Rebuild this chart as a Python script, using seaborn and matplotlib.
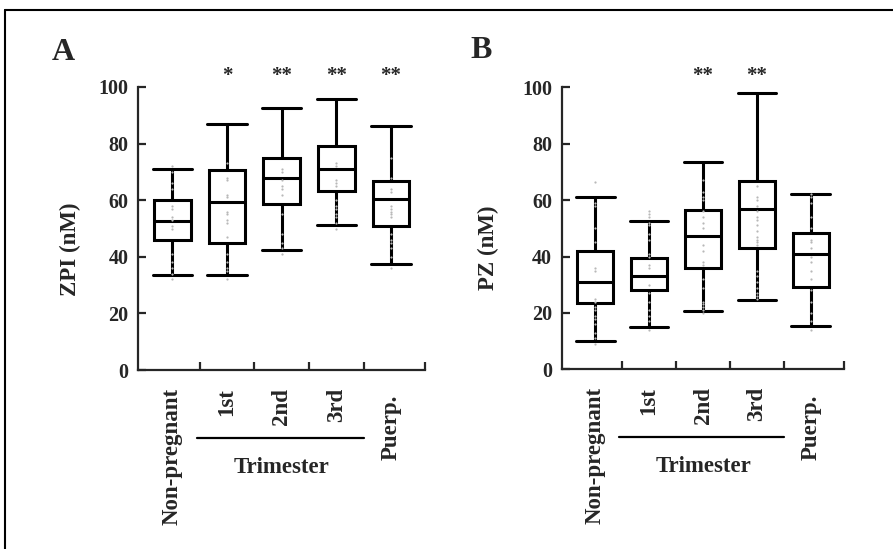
import numpy as np
import pandas as pd
import matplotlib
matplotlib.use("Agg")
import matplotlib.pyplot as plt
import matplotlib.transforms as mtrans
from matplotlib.lines import Line2D
import seaborn as sns

# ---------------------------------------------------------------- data
groups = ["Non-pregnant", "1st", "2nd", "3rd", "Puerp."]

# ZPI (nM): whisker ends, quartiles and medians per group
zpi_low = [33.6, 33.5, 42.3, 51.3, 37.5]
zpi_q1 = [45.8, 44.9, 58.5, 63.2, 50.8]
zpi_median = [52.5, 59.2, 67.8, 71.2, 60.4]
zpi_q3 = [60.0, 70.8, 75.0, 79.3, 66.9]
zpi_high = [71.1, 86.9, 92.6, 95.6, 86.1]
zpi_marks = ["", "*", "**", "**", "**"]

# individual ZPI measurements
zpi_pts_nonpreg = [72, 70, 66, 64, 58, 57, 54, 53, 51, 50, 41, 38, 36, 34, 32]
zpi_pts_t1 = [73, 68, 67, 62, 61, 56, 55, 53, 52, 47, 41, 38, 36, 35, 32]
zpi_pts_t2 = [71, 70, 67, 65, 64, 62, 55, 48, 45, 43, 41]
zpi_pts_t3 = [73, 72, 67, 66, 65, 60, 58, 57, 55, 54, 52, 50]
zpi_pts_puerp = [75, 68, 64, 63, 58, 57, 56, 55, 54, 48, 46, 45, 43, 40, 36]

# PZ (nM): whisker ends, quartiles and medians per group
pz_low = [10.2, 14.9, 20.8, 24.5, 15.5]
pz_q1 = [23.5, 28.2, 36.0, 43.1, 29.2]
pz_median = [30.8, 33.2, 47.4, 56.7, 40.8]
pz_q3 = [41.8, 39.5, 56.4, 66.9, 48.4]
pz_high = [61.2, 52.5, 73.5, 97.9, 62.2]
pz_marks = ["", "", "**", "**", ""]

# individual PZ measurements
pz_pts_nonpreg = [66.5, 59, 58, 50, 45, 36, 35, 25, 24, 22, 21, 19, 18, 16, 13, 11, 9]
pz_pts_t1 = [56, 55, 54, 52, 51, 48, 46, 41, 40, 37, 36, 30, 27, 24, 21, 19, 17, 14]
pz_pts_t2 = [67, 63, 61, 60, 56, 54, 52, 50, 44, 42, 38, 37, 32, 29, 24, 23, 22, 21, 20]
pz_pts_t3 = [65, 61, 60, 58, 56, 54, 53, 51, 49, 47, 46, 45, 44, 35, 33, 31, 29, 27, 26, 25]
pz_pts_puerp = [62, 61, 59, 54, 50, 46, 45, 43, 40, 38, 35, 32, 28, 24, 20, 17, 14]

# ---------------------------------------------------------------- style
sns.set_style("ticks")
plt.rcParams["font.family"] = ["Liberation Serif", "DejaVu Serif"]
plt.rcParams["font.weight"] = "bold"
plt.rcParams["axes.labelweight"] = "bold"

fig = plt.figure(figsize=(8.93, 5.49), dpi=100)
ax_a = fig.add_axes([138.3 / 893, 1 - 370 / 549, 286.7 / 893, 283 / 549])
ax_b = fig.add_axes([561.7 / 893, 1 - 369.3 / 549, 282.6 / 893, 282 / 549])


def draw_panel(ax, low, q1, med, q3, high, points, marks, ylabel, label_xy):
    # five-number summaries -> boxes (whiskers span the full range)
    summary = pd.DataFrame({
        "group": np.repeat(groups, 5),
        "value": np.column_stack([low, q1, med, q3, high]).ravel(),
    })
    sns.boxplot(data=summary, x="group", y="value", order=groups,
                whis=np.inf, width=0.67, capwidths=0.72, color="white",
                saturation=1, linecolor="black", linewidth=2.2, ax=ax)

    pts = pd.DataFrame({
        "group": np.concatenate([[g] * len(p) for g, p in zip(groups, points)]),
        "value": np.concatenate(points),
    })
    sns.swarmplot(data=pts, x="group", y="value", order=groups, size=1.6,
                  color="#b8b8b8", ax=ax, zorder=3)

    ax.set_xlim(-0.62, 4.62)
    ax.set_ylim(0, 100)
    sns.despine(ax=ax)
    for side in ("left", "bottom"):
        ax.spines[side].set_linewidth(1.6)
    ax.set_xlabel("")
    ax.set_ylabel("")
    ax.set_yticks([0, 20, 40, 60, 80, 100])
    ax.set_xticks([0.5, 1.5, 2.5, 3.5, 4.62])
    ax.set_xticklabels([])
    ax.tick_params(axis="both", direction="in", length=6, width=1.6)
    ax.tick_params(axis="y", labelsize=14.5, pad=7)

    trans = mtrans.blended_transform_factory(ax.transData, ax.transAxes)
    for i, g in enumerate(groups):
        off = -18 if g == "Puerp." else -13
        ax.annotate(g, xy=(i, 0), xycoords=trans, xytext=(0, off),
                    textcoords="offset points", rotation=90,
                    ha="center", va="top", fontsize=16.5)
        if marks[i]:
            ax.text(i, 104, marks[i], ha="center", va="center",
                    fontsize=15, clip_on=False)

    ax.plot([0.45, 3.5], [-0.24, -0.24], transform=trans, color="black",
            lw=1.6, clip_on=False)
    ax.text(2.0, -0.345, "Trimester", transform=trans, ha="center",
            va="center", fontsize=16.5)

    ax.text(label_xy[0], label_xy[1], ylabel, transform=ax.transAxes,
            rotation=90, ha="center", va="center", fontsize=16.5)


draw_panel(ax_a, zpi_low, zpi_q1, zpi_median, zpi_q3, zpi_high,
           [zpi_pts_nonpreg, zpi_pts_t1, zpi_pts_t2, zpi_pts_t3, zpi_pts_puerp],
           zpi_marks, "ZPI (nM)", (-0.238, 0.428))
draw_panel(ax_b, pz_low, pz_q1, pz_median, pz_q3, pz_high,
           [pz_pts_nonpreg, pz_pts_t1, pz_pts_t2, pz_pts_t3, pz_pts_puerp],
           pz_marks, "PZ (nM)", (-0.26, 0.43))

fig.text(63 / 893, 1 - 52 / 549, "A", ha="center", va="center", fontsize=23)
fig.text(481 / 893, 1 - 50 / 549, "B", ha="center", va="center", fontsize=23)

# outer frame (top and left edges)
fig.add_artist(Line2D([5 / 893, 1], [1 - 10 / 549] * 2,
                      transform=fig.transFigure, color="black", lw=1.5))
fig.add_artist(Line2D([5 / 893] * 2, [0, 1 - 10 / 549],
                      transform=fig.transFigure, color="black", lw=1.5))

fig.savefig("out.png", dpi=100)
